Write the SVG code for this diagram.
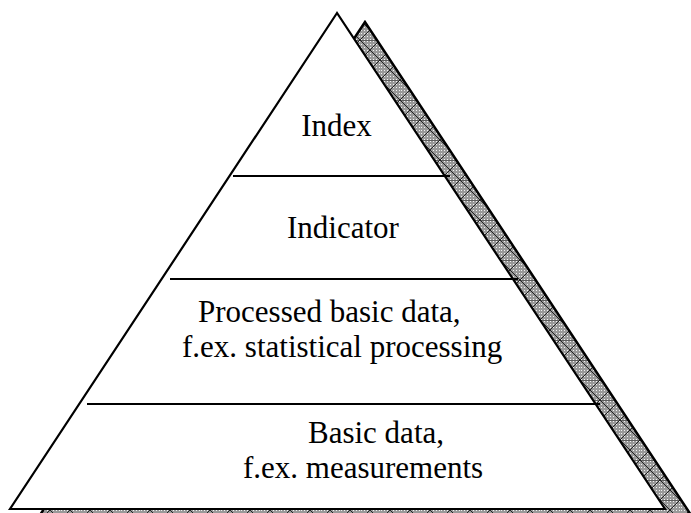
<svg xmlns="http://www.w3.org/2000/svg" width="691" height="513" viewBox="0 0 691 513">
<style>
text{font-family:'Liberation Serif','Times New Roman',Times,serif;font-size:31px;fill:#000}
.div{stroke:#000;stroke-width:2;fill:none}
</style>
<defs>
<pattern id="dots" width="3" height="3" patternUnits="userSpaceOnUse">
<rect width="3" height="3" fill="#999"/>
<rect x="1" y="1" width="1" height="1" fill="#f2f2f2"/>
</pattern>
<pattern id="hatch" width="20" height="20" patternUnits="userSpaceOnUse">
<rect width="20" height="20" fill="url(#dots)"/>
<path d="M0 0L20 20M20 0L0 20M0 0H20" stroke="#222" stroke-width="1" fill="none"/>
</pattern>
</defs>
<g id="shadow">
<polygon points="365,22 38,518 693,518" fill="url(#hatch)" stroke="#000" stroke-width="2.5"/>
</g>
<g id="pyramid">
<polygon points="337,13 10,509 665,509" fill="#fff" stroke="#000" stroke-width="2.2"/>
</g>
<g id="connectors">
<line class="div" x1="233" y1="176" x2="450" y2="176"/>
<line class="div" x1="170" y1="279" x2="518" y2="279"/>
<line class="div" x1="87" y1="404" x2="600" y2="404"/>
</g>
<g id="tier-index"><text x="336.5" y="136" text-anchor="middle">Index</text></g>
<g id="tier-indicator"><text x="343" y="238" text-anchor="middle">Indicator</text></g>
<g id="tier-processed">
<text x="198" y="322">Processed basic data,</text>
<text x="182" y="357">f.ex. statistical processing</text>
</g>
<g id="tier-basic">
<text x="308" y="443">Basic data,</text>
<text x="243" y="478">f.ex. measurements</text>
</g>
</svg>
